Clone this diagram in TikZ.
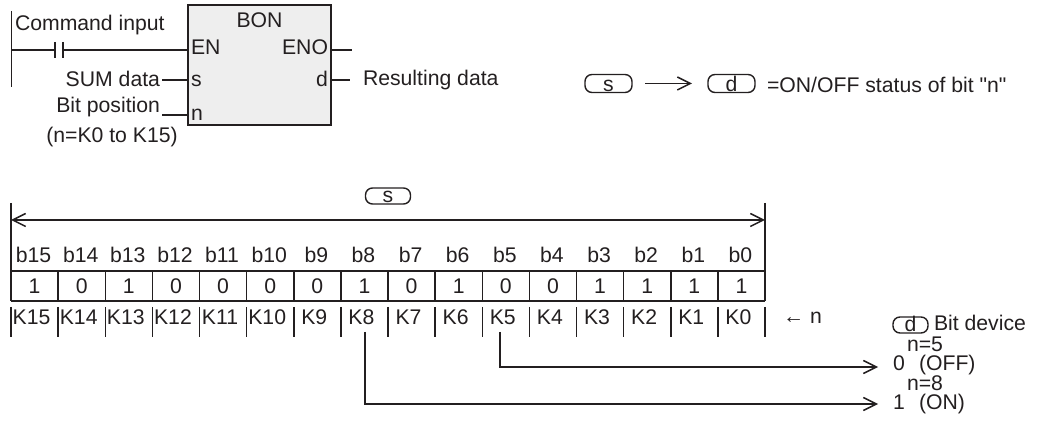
\documentclass[tikz,border=0pt]{standalone}
\usepackage{fontspec}
\setmainfont{Liberation Sans}[Ligatures=TeXOff]
\usetikzlibrary{arrows.meta}
\definecolor{ink}{HTML}{231F20}
\definecolor{boxfill}{HTML}{EEEEEE}
\begin{document}
\begin{tikzpicture}[x=0.5pt,y=-0.5pt,
  every node/.style={inner sep=0pt, outer sep=0pt, text=ink, font=\fontsize{10.6}{12.5}\selectfont},
  wire/.style={draw=ink, line width=0.75pt},
  fbbox/.style={draw=ink, line width=1pt, fill=boxfill, minimum width=71.5pt, minimum height=60pt},
  oval/.style={draw=ink, line width=0.7pt, rounded corners=3.5pt, minimum height=9pt},
  arr/.style={wire, -{Straight Barb[length=6.5pt,width=6.5pt]}},
  darr/.style={wire, {Straight Barb[length=6.5pt,width=6.5pt]}-{Straight Barb[length=6.5pt,width=6.5pt]}},
]
\useasboundingbox (0,0) rectangle (1050,421);

% ---------------- ladder part ----------------
\coordinate (railtop) at (11.5,11);
\coordinate (railbot) at (11.5,87);
\draw[wire] (railtop) -- (railbot);
\node[anchor=base west] (cmd) at (15,31) {Command input};
\node[fbbox] (bon) at (259.5,65) {};
\node[anchor=base] (bont) at (259.5,28) {BON};
\node[anchor=base west] (en) at (191,55) {EN};
\node[anchor=base east] (eno) at (328,55) {ENO};
\node[anchor=base west] (sp) at (191,87) {s};
\node[anchor=base west] (np) at (191,121) {n};
\node[anchor=base east] (dp) at (328,87) {d};

\coordinate (rung) at (11.5,50);
\coordinate (ca) at (55,50);
\coordinate (cb) at (63,50);
\draw[wire] (rung) -- (ca);
\draw[wire] (ca) ++(0,-8) -- ++(0,16);
\draw[wire] (cb) ++(0,-8) -- ++(0,16);
\draw[wire] (cb) -- (cb -| bon.west);

\coordinate (enoend) at (352,50);
\draw[wire] (enoend -| bon.east) -- (enoend);

\node[anchor=base east] (sum) at (160,87) {SUM data};
\coordinate (sumend) at (162,80);
\draw[wire] (sumend) -- (sumend -| bon.west);

\node[anchor=base east] (bitpos) at (160,113) {Bit position};
\coordinate (bpend) at (162,115);
\draw[wire] (bpend) -- (bpend -| bon.west);

\node[anchor=base] (nrange) at (112,143) {(n=K0 to K15)};

\coordinate (dend) at (350,80);
\draw[wire] (dend -| bon.east) -- (dend);
\node[anchor=base west] (res) at (363,86) {Resulting data};

% ---------------- formula ----------------
\node[oval, minimum width=23.5pt] (fs) at (608.5,83.5) {};
\node[anchor=base] (fst) at (608.5,92) {s};
\node[oval, minimum width=23.5pt] (fd) at (731.5,83.5) {};
\node[anchor=base] (fdt) at (731.5,92) {d};
\draw[arr] ([xshift=6.5pt]fs.east) -- ([xshift=-8pt]fd.west);
\node[anchor=base west] (status) at (767,93) {=ON/OFF status of bit "n"};

% ---------------- bit table ----------------
\node[oval, minimum width=22.5pt, minimum height=8pt] (bs) at (388,196) {};
\node[anchor=base] (bst) at (388,203) {s};

\coordinate (Ltop) at (11,203);
\coordinate (Lbot) at (11,301);
\coordinate (Rtop) at (765,203);
\coordinate (Rbot) at (765,301);
\draw[wire] (Ltop) -- (Lbot);
\draw[wire] (Rtop) -- (Rbot);
\coordinate (dimL) at (11,220);
\coordinate (dimR) at (765,220);
\draw[darr] (dimL) -- (dimR);
\coordinate (rowTL) at (11,271);
\coordinate (rowTR) at (765,271);
\draw[wire] (rowTL) -- (rowTR);
\draw[wire] (Lbot) -- (Rbot);

\foreach \k/\v in {0/1,1/0,2/1,3/0,4/0,5/0,6/0,7/1,8/0,9/1,10/0,11/0,12/1,13/1,14/1,15/1}{
  \pgfmathsetmacro\xl{11+47.125*\k}
  \pgfmathsetmacro\xc{\xl+23.5625}
  \pgfmathtruncatemacro\b{15-\k}
  \node[anchor=base] (h\b) at (\xc-1,263) {b\b};
  \node (v\b) at (\xc,286) {\v};
  \node[anchor=base] (k\b) at (\xc-3,325) {K\b};
  \draw[wire] (\xl,307) -- (\xl,337);
  \ifnum\k>0 \draw[wire] (\xl,271) -- (\xl,301); \fi
}
\draw[wire] (765,307) -- (765,337);

\node[anchor=base west] (larrow) at (783,324) {← n};

\node[oval, minimum width=17.5pt, minimum height=8pt] (bd) at (910.5,325) {};
\node[anchor=base] (bdt) at (910.5,332) {d};
\node[anchor=base west] (bitdev) at (934,331) {Bit device};

\node[anchor=base west] (n5) at (907,352) {n=5};
\node[anchor=base west] (n8) at (907,391) {n=8};

\coordinate (t5) at (500,332);
\coordinate (t8) at (365,332);
\coordinate (o5) at (878,367);
\coordinate (o8) at (878,404);
\draw[arr] (t5) |- (o5);
\draw[arr] (t8) |- (o8);

\node[anchor=base west] (off0) at (893,371) {0};
\node[anchor=base west] (off) at (919,371) {(OFF)};
\node[anchor=base west] (on1) at (893,410) {1};
\node[anchor=base west] (on) at (919,410) {(ON)};
\end{tikzpicture}
\end{document}
